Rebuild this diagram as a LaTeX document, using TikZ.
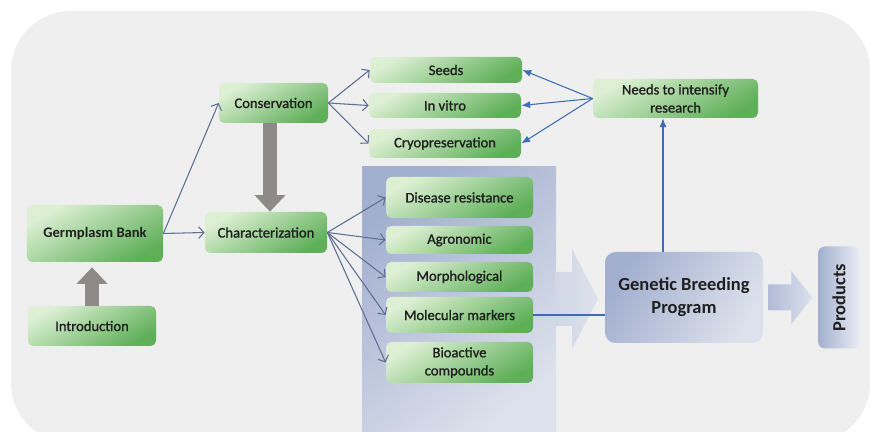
\documentclass[tikz,border=0pt]{standalone}
\usepackage{fontspec}
\setmainfont{Carlito}
\newfontfamily\semifont[FakeBold=1.2]{Carlito}
\usepackage{graphicx}
\usepackage{tikz}
\usetikzlibrary{arrows.meta, positioning}
\definecolor{panelGray}{HTML}{EFEFEF}
\definecolor{leafLight}{HTML}{DDF0D4}
\definecolor{leafDark}{HTML}{5FAF59}
\definecolor{slateLine}{HTML}{5F6F94}
\definecolor{linkBlue}{HTML}{3E6DB5}
\definecolor{bulkGray}{HTML}{8E8A8A}
\definecolor{bandDark}{HTML}{A2AFCF}
\definecolor{bandLight}{HTML}{DDE1EC}
\definecolor{inkDark}{HTML}{1F1F1F}

\begin{document}
\begin{tikzpicture}[node distance=1cm,
        box/.style={rectangle, rounded corners=3pt, top color=leafLight, bottom color=leafDark, shading angle=30, font=\fontsize{8.3}{10.3}\semifont, text=inkDark, align=center, inner sep=0pt},
        steel/.style={rectangle, rounded corners=6pt, top color=bandDark, bottom color=bandLight, shading angle=60, font=\fontsize{10.5}{13}\selectfont\bfseries, text=inkDark, align=center, inner sep=0pt},
        thin/.style={-{Straight Barb[length=3pt, width=6.5pt]}, draw=slateLine, line width=0.6pt},
        back/.style={-{Latex[length=5pt, width=4pt]}, draw=linkBlue, line width=0.6pt},
        fatarrow/.style={-{Triangle[width=0.6cm, length=0.33cm]}, draw=bulkGray, line width=0.29cm}]

        % panel and band
        \useasboundingbox (0,0) rectangle (17.4,8.64);
        \clip (0,0) rectangle (17.4,8.64);
        \fill[panelGray, rounded corners=1.2cm] (0.22,-0.22) rectangle (17.4,8.42);
        \shade[top color=bandDark, bottom color=bandLight, shading angle=40] (7.24,0) rectangle (11.12,5.3);
        \shade[left color=bandLight!80!bandDark, right color=bandLight] (11.1,3.2) -- (11.44,3.2) -- (11.44,3.66) -- (11.96,2.66) -- (11.44,1.66) -- (11.44,2.12) -- (11.1,2.12) -- cycle;

        % Germplasm side
        \node[box, minimum width=2.72cm, minimum height=1.14cm, font=\fontsize{8.3}{10.3}\selectfont\bfseries] (germ) at (1.9,3.97) {Germplasm Bank};
        \node[box, minimum width=2.56cm, minimum height=0.8cm, below of=germ, node distance=1.85cm, xshift=-0.06cm] (intro) {Introduction};
        \node[box, minimum width=2.44cm, minimum height=0.82cm, right of=germ, node distance=3.42cm, yshift=0.02cm] (charz) {Characterization};
        \node[box, minimum width=2.18cm, minimum height=0.8cm, above of=charz, node distance=2.59cm, xshift=0.15cm] (cons) {Conservation};

        % Conservation targets
        \node[box, minimum width=3.04cm, minimum height=0.52cm, right of=cons, node distance=3.45cm, yshift=0.66cm] (seeds) {Seeds};
        \node[box, minimum width=3.04cm, minimum height=0.5cm, right of=cons, node distance=3.43cm, yshift=-0.05cm] (vitro) {In vitro};
        \node[box, minimum width=3.04cm, minimum height=0.58cm, right of=cons, node distance=3.43cm, yshift=-0.81cm] (cryo) {Cryopreservation};
        \node[box, minimum width=3.3cm, minimum height=0.78cm, right of=vitro, node distance=4.61cm, yshift=0.14cm] (needs) {Needs to intensify\\research};

        % Characterization traits
        \node[box, minimum width=2.94cm, minimum height=0.82cm, right of=charz, node distance=3.87cm, yshift=0.7cm] (disease) {Disease resistance};
        \node[box, minimum width=2.94cm, minimum height=0.56cm, below of=disease, node distance=0.85cm] (agro) {Agronomic};
        \node[box, minimum width=2.94cm, minimum height=0.6cm, below of=agro, node distance=0.74cm] (morpho) {Morphological};
        \node[box, minimum width=2.94cm, minimum height=0.72cm, below of=morpho, node distance=0.76cm] (molec) {Molecular markers};
        \node[box, minimum width=2.94cm, minimum height=0.82cm, below of=molec, node distance=0.95cm] (bioact) {Bioactive\\compounds};

        % Breeding
        \node[steel, minimum width=3.16cm, minimum height=1.82cm, right of=molec, node distance=4.49cm, yshift=0.35cm] (genetic) {Genetic Breeding\\Program};
        \node[steel, rounded corners=4pt, left color=bandDark, right color=bandLight!60!white, minimum width=0.84cm, minimum height=2.04cm, right of=genetic, node distance=3.1cm] (products) {\rotatebox{90}{Products}};
        \shade[left color=bandDark!85!white, right color=bandLight] ([xshift=0.1cm, yshift=0.26cm]genetic.east) -- ++(0.46,0) -- ++(0,0.27) -- ++(0.42,-0.53) -- ++(-0.42,-0.53) -- ++(0,0.27) -- ++(-0.46,0) -- cycle;

        % Arrows
        \draw[fatarrow, shorten >=0.1cm] (intro.north) -- (intro.north |- germ.south);
        \draw[fatarrow] ([xshift=-0.07cm]cons.south) -- ([xshift=-0.07cm]cons.south |- charz.north);
        \draw[thin] (germ.east) -- (cons.west);
        \draw[thin] (germ.east) -- (charz.west);
        \foreach \tgt in {seeds, vitro, cryo}
            \draw[thin] (cons.east) -- (\tgt.west);
        \foreach \tgt in {disease, agro, morpho, molec, bioact}
            \draw[thin] (charz.east) -- (\tgt.west);
        \foreach \tgt in {seeds, vitro, cryo}
            \draw[back] (needs.west) -- (\tgt.east);
        \draw[back] ([xshift=-0.42cm]genetic.north) -- ([xshift=-0.42cm]genetic.north |- needs.south);
        \draw[linkBlue, line width=0.6pt] (molec.east) -- (molec.east -| genetic.west);
    \end{tikzpicture}
\end{document}
